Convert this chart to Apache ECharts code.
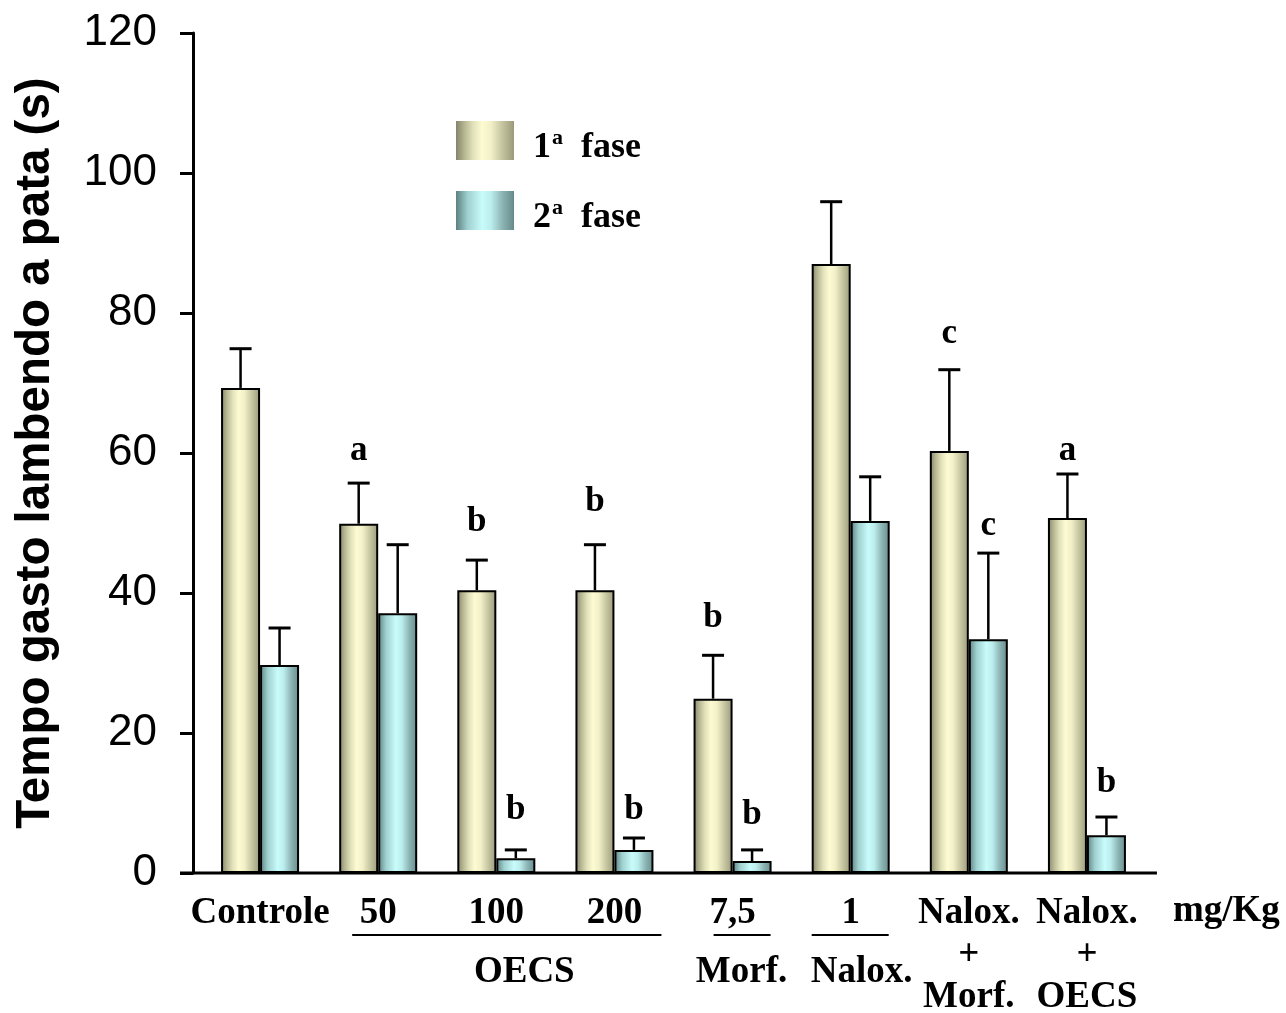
<!DOCTYPE html>
<html>
<head>
<meta charset="utf-8">
<script src="https://cdn.jsdelivr.net/npm/echarts@6/dist/echarts.min.js"></script>
<style>html,body{margin:0;padding:0;background:#fff;}#chart{width:1286px;height:1013px;}</style>
</head>
<body>
<div id="chart"></div>
<script>
// ---- data ----
var categories = ['Controle', '50', '100', '200', '7,5', '1', 'Nalox.\n+\nMorf.', 'Nalox.\n+\nOECS'];
var seriesNames = ['1ª fase', '2ª fase'];
var fase1 = [69.3, 49.9, 40.4, 40.4, 24.9, 87.0, 60.3, 50.7];
var fase1Err = [74.9, 55.7, 44.7, 46.9, 31.1, 95.9, 71.9, 57.0];
var fase2 = [29.7, 37.1, 2.1, 3.3, 1.7, 50.3, 33.4, 5.4];
var fase2Err = [35.0, 46.9, 3.3, 5.0, 3.3, 56.6, 45.7, 8.0];
var letters1 = ['', 'a', 'b', 'b', 'b', '', 'c', 'a'];
var letters1Y = [0, 60.3, 50.1, 53.0, 36.4, 0, 77.0, 60.3];
var letters2 = ['', '', 'b', 'b', 'b', '', 'c', 'b'];
var letters2Y = [0, 0, 9.0, 9.0, 8.3, 0, 49.6, 12.9];
var yTicks = [0, 20, 40, 60, 80, 100, 120];
var groupLabels = [
  {text: 'OECS', from: 1, to: 3},
  {text: 'Morf.', from: 4, to: 4},
  {text: 'Nalox.', from: 5, to: 5}
];
var unitLabel = 'mg/Kg';

var serif = '"Liberation Serif", "Times New Roman", serif';
var sans = '"Liberation Sans", Arial, sans-serif';
var BAR_W = 39;

var grad1 = new echarts.graphic.LinearGradient(0, 0, 1, 0, [
  {offset: 0, color: '#84846a'},
  {offset: 0.15, color: '#b8b894'},
  {offset: 0.3, color: '#e2e2bb'},
  {offset: 0.45, color: '#fdfbd2'},
  {offset: 0.6, color: '#f2f0c8'},
  {offset: 0.8, color: '#c4c4a0'},
  {offset: 1, color: '#9a9a7a'}
]);
var grad2 = new echarts.graphic.LinearGradient(0, 0, 1, 0, [
  {offset: 0, color: '#5b8080'},
  {offset: 0.2, color: '#a0d0d0'},
  {offset: 0.45, color: '#c8fbfb'},
  {offset: 0.6, color: '#bdeeee'},
  {offset: 0.8, color: '#8cb4b4'},
  {offset: 1, color: '#668a8a'}
]);

function errData(vals, errs) {
  return vals.map(function (v, i) { return [i, v, errs[i]]; });
}
function letterData(ls, ys) {
  var out = [];
  ls.forEach(function (l, i) { if (l) out.push([i, ys[i], l]); });
  return out;
}
function errRender(shift) {
  return function (params, api) {
    var idx = api.value(0);
    var p0 = api.coord([idx, api.value(1)]);
    var p1 = api.coord([idx, api.value(2)]);
    var x = p0[0] + shift;
    return {
      type: 'group',
      children: [
        {type: 'line', shape: {x1: x, y1: p0[1], x2: x, y2: p1[1]}, style: {stroke: '#000', lineWidth: 2.5}},
        {type: 'line', shape: {x1: x - 11, y1: p1[1], x2: x + 11, y2: p1[1]}, style: {stroke: '#000', lineWidth: 3}}
      ]
    };
  };
}
function letterRender(shift) {
  return function (params, api) {
    var idx = api.value(0);
    var p = api.coord([idx, api.value(1)]);
    return {
      type: 'text',
      style: {
        x: p[0] + shift, y: p[1], text: api.value(2),
        font: 'bold 35px ' + serif, fill: '#000',
        textAlign: 'center', textVerticalAlign: 'middle'
      }
    };
  };
}

var chart = echarts.init(document.getElementById('chart'));
var option = {
  animation: false,
  backgroundColor: '#fff',
  grid: {left: 201, right: 140, top: 33, bottom: 140, containLabel: false, outerBoundsMode: 'none'},
  legend: {
    orient: 'vertical', left: 456, top: 115.5, padding: 0,
    itemWidth: 58, itemHeight: 39, itemGap: 20,
    icon: 'rect',
    itemStyle: {borderWidth: 0},
    data: seriesNames,
    formatter: function (name) {
      return '{n|' + name.charAt(0) + '}{s|a}{t|  fase}';
    },
    textStyle: {
      rich: {
        n: {fontFamily: serif, fontWeight: 'bold', fontSize: 36, color: '#000', padding: [14, 0, 0, 14], lineHeight: 40},
        s: {fontFamily: serif, fontWeight: 'bold', fontSize: 22, color: '#000', lineHeight: 22, padding: [0, 0, 4, 1]},
        t: {fontFamily: serif, fontWeight: 'bold', fontSize: 36, color: '#000', lineHeight: 40, padding: [14, 0, 0, 0]}
      }
    }
  },
  xAxis: {
    type: 'category',
    data: categories,
    axisLine: {show: false},
    axisTick: {show: false},
    axisLabel: {
      interval: 0, margin: 19,
      fontFamily: serif, fontWeight: 'bold', fontSize: 37, color: '#000', lineHeight: 42
    }
  },
  yAxis: {
    type: 'value', min: 0, max: 120, interval: 20,
    offset: 8,
    name: 'Tempo gasto lambendo a pata (s)',
    nameLocation: 'middle', nameGap: 133, nameRotate: 90, nameMoveOverlap: false,
    nameTextStyle: {fontFamily: sans, fontWeight: 'bold', fontSize: 47.5, color: '#000'},
    axisLine: {show: true, lineStyle: {color: '#000', width: 3}},
    axisTick: {show: true, length: 13, lineStyle: {color: '#000', width: 3}},
    splitLine: {show: false},
    axisLabel: {
      margin: 36, fontFamily: sans, fontSize: 44, color: '#000',
      formatter: function (v) { return yTicks.indexOf(v) >= 0 ? String(v) : ''; }
    }
  },
  series: [
    {
      name: seriesNames[0], type: 'bar', data: fase1, barWidth: BAR_W, barGap: '0%',
      itemStyle: {color: grad1, borderColor: '#000', borderWidth: 2}
    },
    {
      name: seriesNames[1], type: 'bar', data: fase2, barWidth: BAR_W, barGap: '0%',
      itemStyle: {color: grad2, borderColor: '#000', borderWidth: 2}
    },
    {
      type: 'custom', renderItem: errRender(-BAR_W / 2), data: errData(fase1, fase1Err), z: 5,
      encode: {x: 0, y: [1, 2]}
    },
    {
      type: 'custom', renderItem: errRender(BAR_W / 2), data: errData(fase2, fase2Err), z: 5,
      encode: {x: 0, y: [1, 2]}
    },
    {
      type: 'custom', renderItem: letterRender(-BAR_W / 2), data: letterData(letters1, letters1Y), z: 6,
      encode: {x: 0, y: 1}
    },
    {
      type: 'custom', renderItem: letterRender(BAR_W / 2), data: letterData(letters2, letters2Y), z: 6,
      encode: {x: 0, y: 1}
    }
  ]
};
chart.setOption(option);

// annotations: axis baseline, group underlines, group labels, unit
function px(i) { return chart.convertToPixel({xAxisIndex: 0}, i); }
var y0 = chart.convertToPixel({yAxisIndex: 0}, 0);
var band = px(1) - px(0);
var g = [];
g.push({type: 'line', shape: {x1: px(0) - 80, y1: y0, x2: px(categories.length - 1) + 70, y2: y0},
  style: {stroke: '#000', lineWidth: 3}, z: 10});
var extents = {OECS: [-26, 47, 28], 'Morf.': [-19, 38, 9], 'Nalox.': [-39, 38, 11]};
groupLabels.forEach(function (gl) {
  var e = extents[gl.text];
  var x1 = px(gl.from) + e[0], x2 = px(gl.to) + e[1];
  g.push({type: 'line', shape: {x1: x1, y1: y0 + 62, x2: x2, y2: y0 + 62}, style: {stroke: '#000', lineWidth: 2}});
  g.push({type: 'text', style: {x: (px(gl.from) + px(gl.to)) / 2 + e[2], y: y0 + 99, text: gl.text,
    font: 'bold 37px ' + serif, fill: '#000', textAlign: 'center', textVerticalAlign: 'middle'}});
});
g.push({type: 'text', style: {x: px(categories.length - 1) + band * 1.18, y: y0 + 38, text: unitLabel,
  font: 'bold 37px ' + serif, fill: '#000', textAlign: 'center', textVerticalAlign: 'middle'}});
chart.setOption({graphic: g});
</script>
</body>
</html>
